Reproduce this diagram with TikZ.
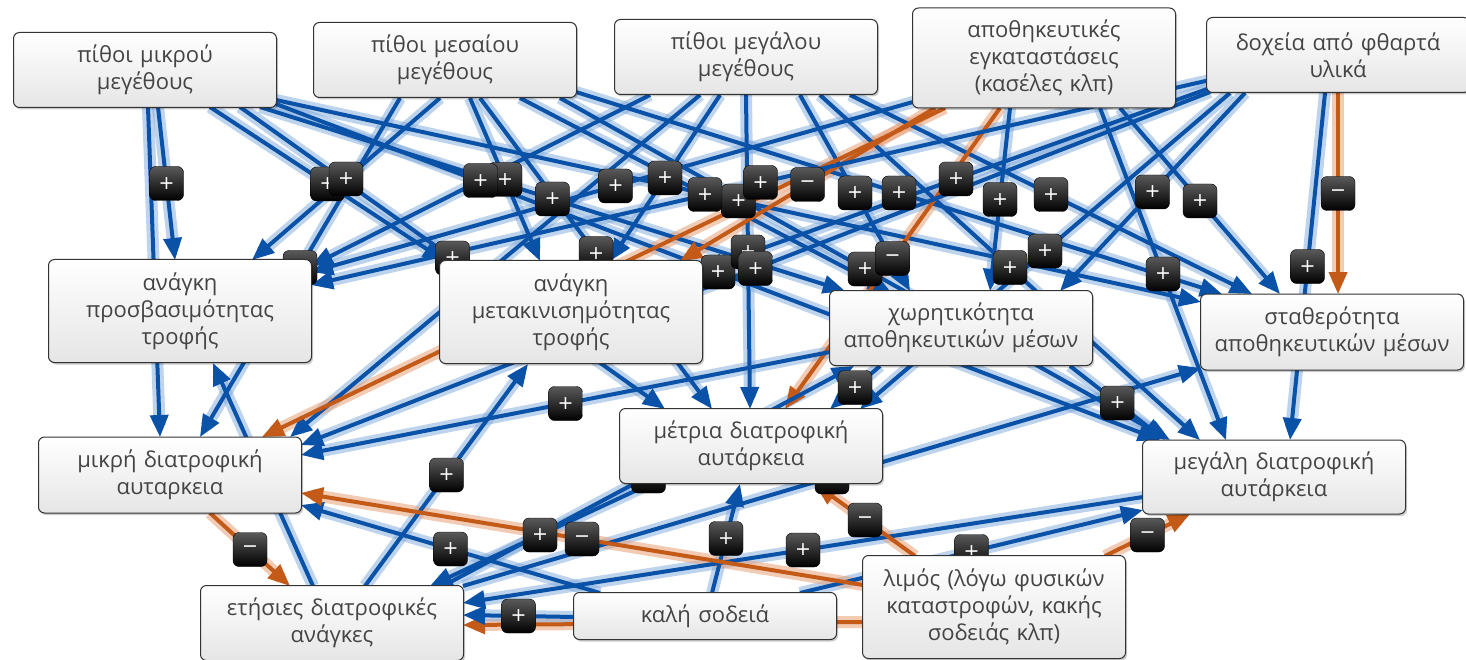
\documentclass[tikz,border=0pt]{standalone}
\usepackage{fontspec}
\setmainfont{Open Sans}
\newfontfamily\symf{DejaVu Sans}
\usetikzlibrary{arrows.meta,shadows,calc}
\pgfdeclarelayer{bg}
\pgfdeclarelayer{halo}
\pgfdeclarelayer{lines}
\pgfdeclarelayer{labels}
\pgfsetlayers{bg,halo,lines,labels,main}
\definecolor{eb}{HTML}{0A52A8}
\definecolor{eo}{HTML}{C45A18}
\definecolor{hb}{HTML}{7FA8DA}
\definecolor{ho}{HTML}{E8A27A}
\definecolor{tx}{HTML}{444444}
\newcommand\ed[6]{}
\newcommand\alledges{%
\ed{b}{p1}{13,37}{n1}{-5,-51}{+}
\ed{b}{p1}{3,37}{m1}{-10,-38}{}
\ed{b}{p1}{65,37}{n2}{-126,-51}{+}
\ed{b}{p1}{115,37}{xw}{-116,-37}{+}
\ed{b}{p1}{131,30}{sb}{-131,-30}{+}
\ed{b}{p1}{95,37}{m2}{-86,-37}{+}
\ed{b}{p1}{131,34}{m3}{-114,-37}{+}
\ed{b}{p2}{-5,38}{n1}{72,-51}{+}
\ed{b}{p2}{25,38}{n2}{-31,-51}{+}
\ed{b}{p2}{75,38}{xw}{-71,-37}{+}
\ed{b}{p2}{131,32}{sb}{-110,-38}{+}
\ed{b}{p2}{-45,38}{m1}{30,-38}{+}
\ed{b}{p2}{35,38}{m2}{-39,-37}{+}
\ed{b}{p2}{115,38}{m3}{-104,-37}{+}
\ed{b}{p3}{-96,38}{n1}{131,-45}{+}
\ed{b}{p3}{-26,38}{n2}{39,-51}{+}
\ed{b}{p3}{54,38}{xw}{-51,-37}{+}
\ed{b}{p3}{104,38}{sb}{-80,-38}{+}
\ed{b}{p3}{-46,38}{m1}{120,-38}{}
\ed{b}{p3}{0,38}{m2}{-1,-37}{+}
\ed{b}{p3}{74,38}{m3}{-74,-37}{+}
\ed{b}{st}{-124,42}{n1}{131,-39}{+}
\ed{o}{st}{-109,50}{n2}{109,-51}{−}
\ed{b}{st}{-34,50}{xw}{29,-37}{+}
\ed{b}{st}{76,50}{sb}{-52,-38}{+}
\ed{o}{st}{-99,50}{m1}{92,-38}{}
\ed{o}{st}{-44,50}{m2}{34,-37}{−}
\ed{b}{st}{56,50}{m3}{-48,-37}{+}
\ed{b}{dx}{-128,25}{n1}{131,-26}{+}
\ed{b}{dx}{-128,33}{n2}{131,-42}{+}
\ed{b}{dx}{-93,38}{xw}{99,-37}{+}
\ed{o}{dx}{0,38}{sb}{6,-38}{−}
\ed{b}{dx}{-128,37}{m1}{131,-30}{+}
\ed{b}{dx}{-108,38}{m2}{109,-37}{+}
\ed{b}{dx}{-13,38}{m3}{16,-37}{+}
\ed{b}{xw}{-131,24}{m1}{131,-20}{+}
\ed{b}{xw}{-81,38}{m2}{79,-37}{+}
\ed{b}{xw}{109,38}{m3}{-109,-37}{+}
\ed{b}{et}{-19,-37}{n1}{33,52}{}
\ed{b}{et}{33,-37}{n2}{-43,52}{+}
\ed{b}{et}{131,-37}{sb}{-131,36}{+}
\ed{b}{et}{111,-37}{xw}{-107,38}{+}
\ed{b}{m2}{-101,38}{et}{98,-37}{+}
\ed{b}{m3}{-131,20}{et}{131,-20}{+}
\ed{o}{m1}{40,38}{et}{-42,-37}{−}
\ed{b}{ks}{-105,-23}{m1}{131,30}{+}
\ed{b}{ks}{7,-23}{m2}{-11,38}{+}
\ed{b}{ks}{95,-23}{m3}{-131,33}{+}
\ed{o}{lm}{-131,15}{et}{131,2}{}
\ed{b}{ks}{-131,1}{et}{131,-8}{+}
\ed{o}{lm}{-131,-22}{m1}{131,18}{−}
\ed{o}{lm}{-79,-51}{m2}{64,38}{−}
\ed{o}{lm}{111,-51}{m3}{-84,37}{−}
}
\begin{document}
\begin{tikzpicture}[x=1pt,y=-1pt,
 box/.style={draw=black!80, line width=1pt, rounded corners=6pt, top color=white, bottom color=black!10,
   minimum width=263pt, text width=256pt, align=center, font=\fontsize{22}{27}\selectfont, text=tx, inner sep=0pt,
   drop shadow={shadow xshift=1.5pt, shadow yshift=-2pt, opacity=0.2, fill=black}},
 sg/.style={rounded corners=6pt, top color=black!65, bottom color=black, draw=black, minimum size=34pt,
   inner sep=0pt, text=white, font=\symf\fontsize{19}{19}\selectfont},
 hab/.style={line width=12pt, hb, opacity=0.5, shorten >=12pt},
 hao/.style={line width=12pt, ho, opacity=0.55, shorten >=12pt},
 lb/.style={line width=4pt, eb, -{Triangle[length=22pt,width=18pt]}},
 lo/.style={line width=4pt, eo, -{Triangle[length=22pt,width=18pt]}},
]
\useasboundingbox (0,0) rectangle (1466,660);
\begin{pgfonlayer}{bg}
\fill[white] (0,0) rectangle (1466,660);
\end{pgfonlayer}
\node[box, minimum height=75pt] (p1) at (145,70) {πίθοι μικρού\\μεγέθους};
\node[box, minimum height=75pt] (p2) at (445,60) {πίθοι μεσαίου\\μεγέθους};
\node[box, minimum height=75pt] (p3) at (746,57) {πίθοι μεγάλου\\μεγέθους};
\node[box, minimum height=100pt] (st) at (1044,58) {αποθηκευτικές\\εγκαταστάσεις\\(κασέλες κλπ)};
\node[box, minimum height=75pt] (dx) at (1338,55) {δοχεία από φθαρτά\\υλικά};
\node[box, minimum height=103pt] (n1) at (180,311) {ανάγκη\\προσβασιμότητας\\τροφής};
\node[box, minimum height=103pt] (n2) at (571,312) {ανάγκη\\μετακινισημότητας\\τροφής};
\node[box, minimum height=75pt] (xw) at (961,328) {χωρητικότητα\\αποθηκευτικών μέσων};
\node[box, minimum height=76pt] (sb) at (1332,332) {σταθερότητα\\αποθηκευτικών μέσων};
\node[box, minimum height=76pt] (m1) at (170,475) {μικρή διατροφική\\αυταρκεια};
\node[box, minimum height=75pt] (m2) at (751,446) {μέτρια διατροφική\\αυτάρκεια};
\node[box, minimum height=74pt] (m3) at (1274,477) {μεγάλη διατροφική\\αυτάρκεια};
\node[box, minimum height=75pt] (et) at (332,623) {ετήσιες διατροφικές\\ανάγκες};
\node[box, minimum height=47pt] (ks) at (705,616) {καλή σοδειά};
\node[box, minimum height=103pt] (lm) at (994,607) {λιμός (λόγω φυσικών\\καταστροφών, κακής\\σοδειάς κλπ)};
\begin{pgfonlayer}{halo}
\renewcommand\ed[6]{\draw[ha#1] ($(#2)+(#3)$) -- ($(#4)+(#5)$);}
\alledges
\end{pgfonlayer}
\begin{pgfonlayer}{lines}
\renewcommand\ed[6]{\draw[l#1] ($(#2)+(#3)$) -- ($(#4)+(#5)$);}
\alledges
\end{pgfonlayer}
\begin{pgfonlayer}{labels}
\renewcommand\ed[6]{\if\relax\detokenize{#6}\relax\else\path ($(#2)+(#3)$) -- node[sg]{#6} ($(#4)+(#5)$);\fi}
\alledges
\end{pgfonlayer}
\end{tikzpicture}
\end{document}
